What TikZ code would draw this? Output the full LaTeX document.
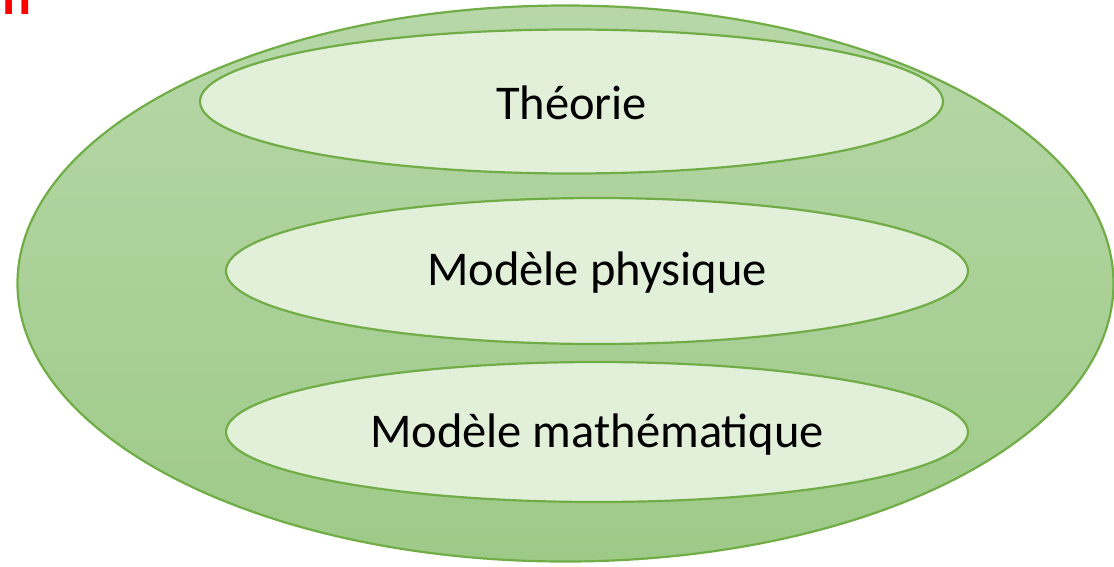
\documentclass[tikz,border=0pt]{standalone}
\usepackage{fontspec}
\setmainfont{Carlito}
\definecolor{edge}{HTML}{70AD47}
\definecolor{innerfill}{HTML}{E2EFD9}
\definecolor{outtop}{HTML}{B7D7A8}
\definecolor{outbot}{HTML}{9ECA88}
\tikzset{
  x=1pt, y=-1pt,
  inner/.style={draw=edge, line width=2.2pt, fill=innerfill},
  lbl/.style={font=\fontsize{48.5}{56}\selectfont, text=black},
}
\begin{document}
\begin{tikzpicture}
\useasboundingbox (0,0) rectangle (1114,566);
\clip (0,0) rectangle (1114,566);
\node[anchor=base west, inner sep=0pt, text=red, font=\bfseries\fontsize{54}{60}\selectfont] (frag) at (2,14) {n};
\shade[top color=outtop, bottom color=outbot, draw=edge, line width=2.2pt] (565.5,283.5) ellipse [x radius=548, y radius=278];
\draw[inner] (571.5,101.5) ellipse [x radius=371.5, y radius=72];
\draw[inner] (597,271) ellipse [x radius=371, y radius=73];
\draw[inner] (597,432) ellipse [x radius=371, y radius=70];
\node[lbl] (t1) at (571.5,103) {Théorie};
\node[lbl] (t2) at (597,273) {Modèle physique};
\node[lbl] (t3) at (597,435) {Modèle mathématique};
\end{tikzpicture}
\end{document}
